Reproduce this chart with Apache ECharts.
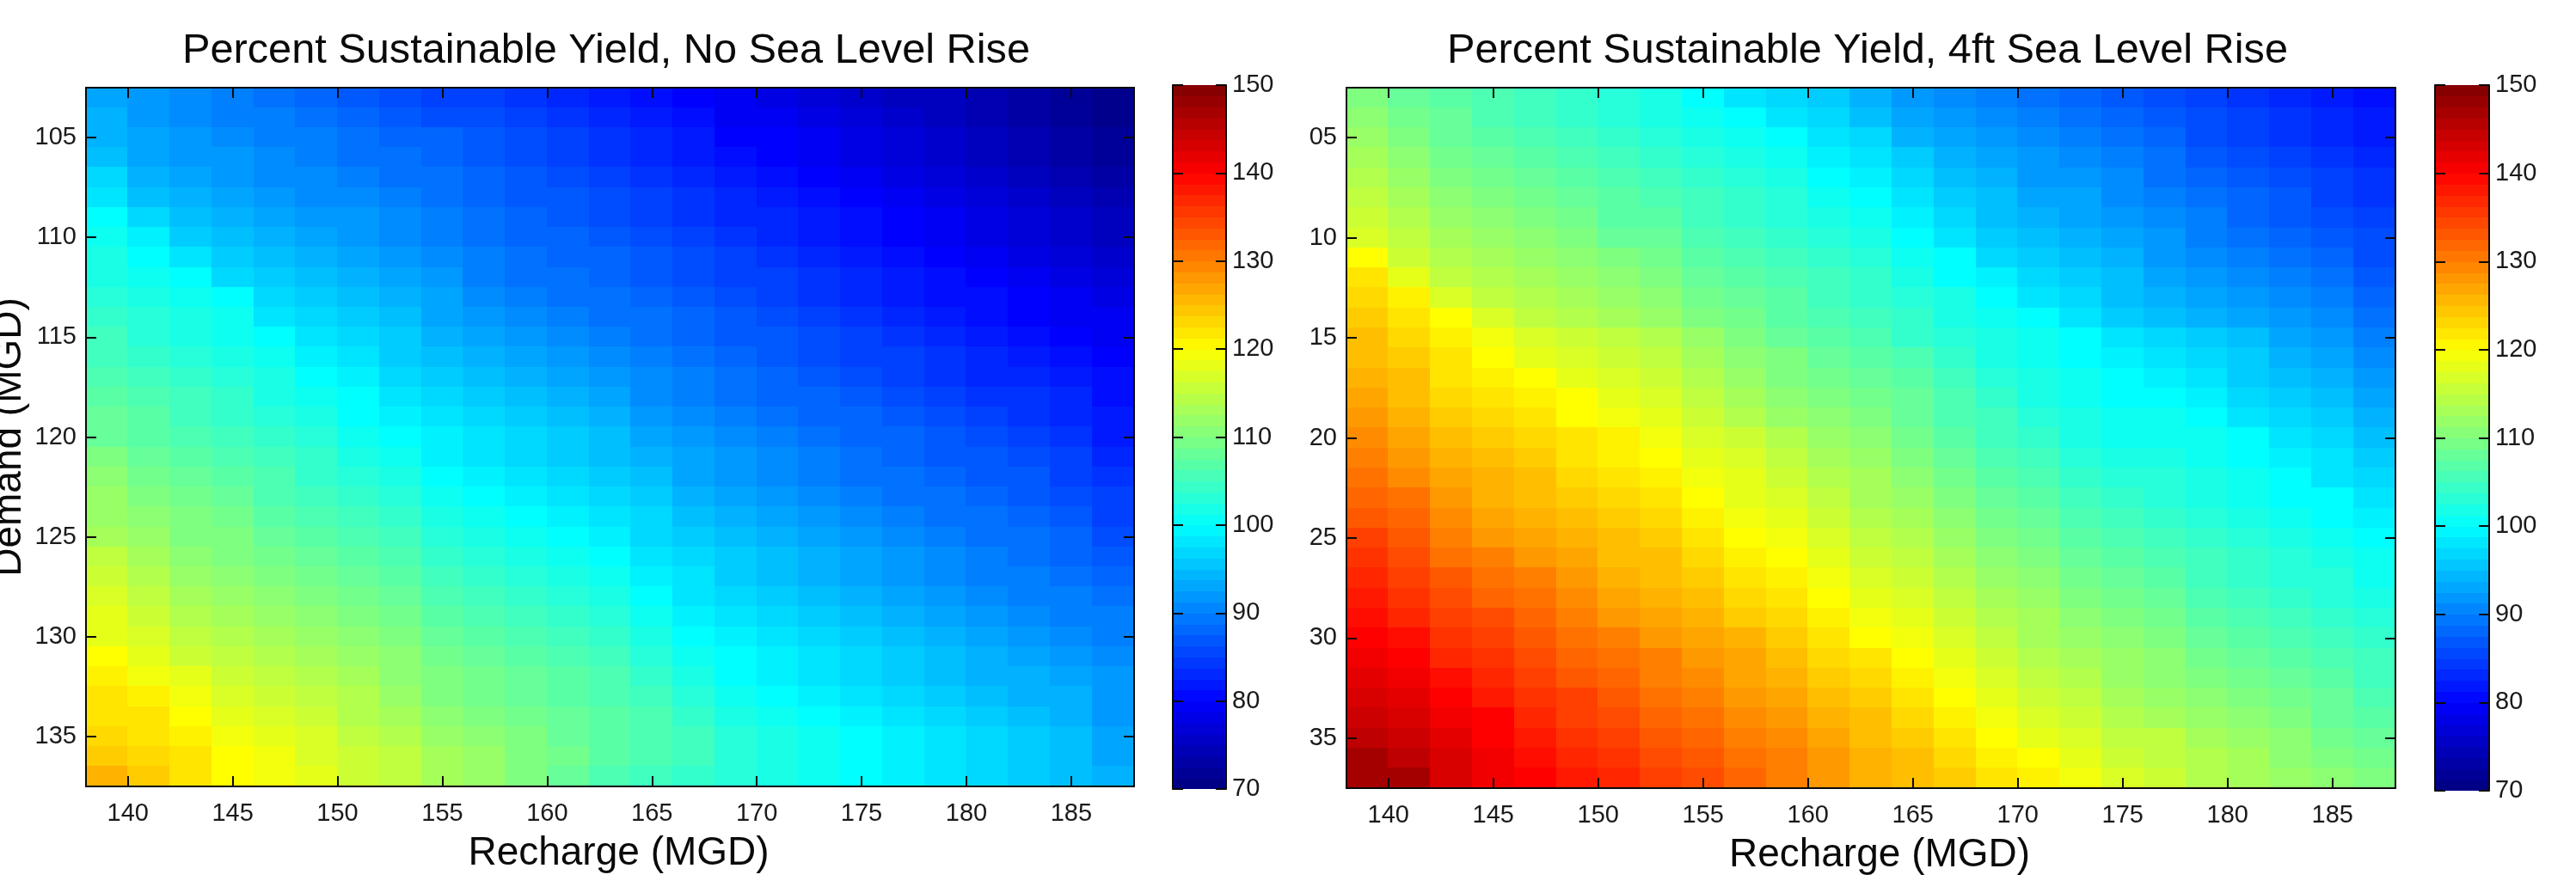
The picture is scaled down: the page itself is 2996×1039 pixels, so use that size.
<!DOCTYPE html>
<html>
<head>
<meta charset="utf-8">
<title>Percent Sustainable Yield</title>
<style>html,body{margin:0;padding:0;background:#fff}#chart{width:2996px;height:1039px}</style>
<script src="https://cdn.jsdelivr.net/npm/echarts@6/dist/echarts.min.js"></script>
</head>
<body>
<div id="chart"></div>
<script>
// Cell centres (MGD)
const rechargeCells = [139,141,143,145,147,149,151,153,155,157,159,161,163,165,167,169,171,173,175,177,179,181,183,185,187];
const demandCells = [103,104,105,106,107,108,109,110,111,112,113,114,115,116,117,118,119,120,121,122,123,124,125,126,127,128,129,130,131,132,133,134,135,136,137];

// Percent sustainable yield, one row per demand value
const yieldNoRise = [
[93,92,91,90,89,88,87,86,85,85,84,83,82,81,80,79,78,77,76,75,75,74,73,72,71],
[94,92,91,90,90,89,88,87,86,86,85,84,83,82,81,79,79,78,77,76,75,74,73,72,71],
[94,93,92,91,90,90,89,88,88,87,86,85,84,83,82,80,80,79,78,77,76,75,74,73,72],
[95,93,92,92,91,90,89,89,88,87,86,85,84,83,82,81,80,79,78,77,76,75,74,73,72],
[97,94,93,92,91,91,90,89,89,88,87,86,85,84,83,82,81,80,79,78,77,76,75,74,73],
[98,95,94,93,92,91,91,90,89,88,87,87,86,85,84,83,82,81,80,79,78,77,76,75,74],
[100,97,95,94,93,92,92,91,90,89,88,87,86,85,84,83,83,82,81,80,79,78,77,76,75],
[101,99,96,95,94,93,92,91,90,89,88,88,87,86,85,84,83,82,81,80,79,78,77,76,75],
[102,100,98,96,95,94,93,92,91,90,89,88,88,87,86,85,84,83,82,81,80,79,78,77,76],
[102,101,100,97,96,95,94,93,92,90,89,89,88,87,86,85,85,84,83,82,81,80,79,78,77],
[103,102,101,100,97,96,95,94,93,91,90,89,89,88,87,86,85,84,83,82,81,81,80,79,78],
[104,103,102,101,98,97,96,95,93,92,91,90,89,89,88,87,86,85,84,83,82,81,80,79,79],
[105,103,102,101,100,98,97,96,94,93,92,91,90,89,88,87,87,86,85,84,83,82,81,80,79],
[105,104,103,102,101,99,98,96,95,94,93,92,91,90,89,88,87,86,85,85,84,83,82,81,80],
[106,105,104,103,102,100,99,97,96,95,94,93,92,91,90,89,88,87,86,85,84,83,83,82,81],
[107,106,105,104,102,101,100,98,97,96,95,94,93,91,90,89,88,88,87,86,85,84,84,83,81],
[108,107,105,104,103,102,100,99,98,97,96,95,94,92,91,90,89,88,88,87,86,85,84,83,82],
[108,107,106,105,104,103,101,100,99,98,97,96,95,93,92,91,90,89,88,88,87,86,85,84,82],
[110,108,107,106,105,104,102,101,99,98,97,96,95,94,93,92,91,90,89,88,87,87,86,85,83],
[111,109,108,107,106,104,103,102,100,99,98,97,96,95,93,92,91,90,89,89,88,87,87,85,84],
[112,110,109,108,106,105,104,103,101,100,99,98,97,96,94,93,92,91,90,89,89,88,87,86,85],
[112,111,110,109,107,106,105,104,102,101,100,99,98,97,95,94,93,92,91,90,89,89,88,87,85],
[113,112,110,110,108,107,106,105,103,102,101,100,99,97,96,95,94,93,92,91,90,89,89,88,86],
[115,113,111,110,109,108,107,106,104,103,102,101,100,98,97,96,95,94,93,92,91,90,89,88,87],
[116,114,112,111,110,109,108,107,105,104,103,102,101,99,98,96,95,94,93,92,91,90,90,89,88],
[117,115,113,112,111,110,109,108,106,105,104,103,102,100,98,97,96,95,94,93,92,91,90,90,89],
[118,116,114,113,112,111,110,109,107,106,105,104,103,101,99,98,97,96,95,94,93,92,91,90,90],
[118,117,115,114,113,112,111,110,108,107,106,105,104,102,100,99,98,97,96,95,94,93,92,91,90],
[120,118,116,115,114,113,112,111,109,108,107,106,105,103,101,100,99,98,97,96,95,94,93,92,91],
[121,119,118,116,115,114,113,111,110,109,108,107,106,104,102,100,99,98,97,96,95,94,94,93,92],
[122,121,119,117,116,115,114,112,110,109,108,107,106,105,103,101,100,99,98,97,96,95,94,94,92],
[122,122,120,118,117,116,114,113,111,110,109,108,107,106,104,102,101,100,99,98,97,96,95,94,92],
[123,122,121,119,118,117,115,114,112,111,110,108,107,106,105,103,102,101,100,99,98,97,96,95,93],
[124,123,122,120,119,117,116,115,113,112,110,109,107,106,105,103,102,101,100,99,98,97,96,95,93],
[126,124,122,120,119,118,116,115,113,112,110,108,106,105,104,103,102,101,100,99,98,97,96,95,94]
];
const yield4ftRise = [
[110,108,107,106,105,104,103,102,100,98,97,96,94,92,91,90,89,88,87,86,85,84,83,82,81],
[111,109,108,106,105,104,103,102,101,100,98,97,95,93,92,91,90,89,88,87,86,85,84,83,82],
[112,110,108,107,106,105,104,103,102,101,100,98,97,94,93,92,91,90,89,88,86,85,84,83,82],
[113,111,109,108,107,106,105,104,103,102,101,99,98,96,94,93,92,91,90,89,87,86,85,84,83],
[114,112,110,109,108,107,106,105,104,103,102,100,99,97,95,94,92,92,91,89,88,87,86,85,84],
[115,113,111,110,109,108,107,106,105,104,103,101,100,98,96,95,93,93,91,90,89,88,87,85,84],
[116,114,112,111,110,109,107,107,105,104,103,102,101,99,97,95,94,93,92,91,90,88,87,86,85],
[117,115,113,112,111,110,108,108,106,105,104,103,102,100,98,96,95,94,93,92,90,89,88,87,86],
[120,116,114,113,112,111,110,109,107,106,105,104,103,101,100,97,96,95,94,92,91,90,89,88,86],
[122,118,115,114,113,112,111,110,108,107,106,105,104,102,100,99,97,96,95,93,92,91,90,89,87],
[123,121,117,115,114,113,112,111,109,108,107,105,104,103,102,100,98,97,95,94,93,92,91,90,88],
[124,122,120,117,115,114,113,112,110,109,107,106,105,104,102,101,100,98,96,95,94,93,92,91,89],
[125,123,121,119,117,116,115,114,112,110,108,107,106,104,103,102,101,100,98,97,96,95,93,92,90],
[125,124,122,120,118,117,116,115,113,111,110,108,107,106,104,102,101,100,99,98,97,96,94,93,91],
[126,125,122,121,120,118,117,116,114,112,110,109,108,107,105,103,102,101,100,99,98,96,95,94,92],
[127,125,123,122,121,120,118,117,115,113,111,110,109,108,106,104,102,101,100,100,99,97,96,95,93],
[128,126,124,123,122,120,119,118,116,114,112,111,110,108,106,105,103,102,101,101,100,98,97,96,94],
[129,127,125,124,123,122,121,119,117,116,114,112,111,109,107,105,104,102,101,101,101,100,98,97,95],
[130,128,126,125,124,122,121,120,118,117,115,113,112,110,108,106,105,103,102,102,101,100,99,98,96],
[131,129,127,126,125,123,122,121,119,118,116,114,113,111,109,107,106,104,103,103,102,101,100,98,97],
[132,131,128,126,125,124,123,122,120,118,117,115,113,112,110,108,107,105,104,103,102,101,100,100,98],
[133,132,129,127,126,125,124,123,121,119,118,116,114,113,111,109,108,106,105,104,103,102,101,100,99],
[135,133,130,128,127,126,125,124,122,120,119,117,115,114,112,110,109,107,106,105,104,103,102,101,100],
[136,134,131,130,128,127,125,125,123,121,120,118,116,115,113,111,110,108,107,106,105,104,103,102,101],
[137,135,133,131,130,128,126,125,124,122,121,119,117,116,114,112,111,109,108,107,105,104,103,103,101],
[138,136,134,132,131,129,127,126,125,123,122,120,118,117,115,113,112,110,109,108,106,105,104,103,102],
[139,137,135,134,132,130,128,127,126,124,123,121,119,118,116,114,113,111,110,109,107,106,105,104,103],
[140,139,136,135,133,131,130,128,127,126,124,122,120,119,117,115,113,112,111,110,108,107,106,105,104],
[141,140,137,136,134,132,131,130,128,127,125,123,122,120,118,116,114,113,112,111,109,108,107,106,105],
[142,141,139,137,135,133,132,130,129,127,126,124,123,121,119,117,115,114,112,111,110,109,108,107,105],
[143,142,140,138,136,135,133,131,130,128,127,125,124,122,120,118,116,115,113,112,111,110,109,108,106],
[144,143,141,140,137,135,134,132,131,129,128,126,125,123,121,119,117,116,114,113,112,111,110,108,107],
[145,144,142,140,138,136,135,133,132,130,129,127,125,124,122,120,118,117,115,115,113,112,111,109,108],
[147,145,143,141,139,137,136,134,133,131,130,128,126,125,123,121,120,118,116,115,114,113,111,110,109],
[147,147,143,141,140,138,137,135,134,132,130,128,126,125,124,122,121,119,117,116,114,113,112,111,110]
];

// Tick labels
const rechargeTicks = [140,145,150,155,160,165,170,175,180,185];
const demandTicks = [105,110,115,120,125,130,135];
const leftDemandLabels = ['105','110','115','120','125','130','135'];
const rightDemandLabels = ['05','10','15','20','25','30','35'];
const colorbarTicks = [70,80,90,100,110,120,130,140,150];

// Colour scale: MATLAB jet between 70 and 150, and the 64 steps of its colour bar
const jetStops = ['#00007f','#0000ff','#007fff','#00ffff','#7fff7f','#ffff00','#ff7f00','#ff0000','#7f0000'];
const colorbarLevels = [70.625,71.875,73.125,74.375,75.625,76.875,78.125,79.375,80.625,81.875,83.125,84.375,85.625,86.875,88.125,89.375,90.625,91.875,93.125,94.375,95.625,96.875,98.125,99.375,100.625,101.875,103.125,104.375,105.625,106.875,108.125,109.375,110.625,111.875,113.125,114.375,115.625,116.875,118.125,119.375,120.625,121.875,123.125,124.375,125.625,126.875,128.125,129.375,130.625,131.875,133.125,134.375,135.625,136.875,138.125,139.375,140.625,141.875,143.125,144.375,145.625,146.875,148.125,149.375];

const titles = ['Percent Sustainable Yield, No Sea Level Rise','Percent Sustainable Yield, 4ft Sea Level Rise'];
const xName = 'Recharge (MGD)';
const yName = 'Demand (MGD)';

const FONT = '"Liberation Sans", Arial, sans-serif';
const INK = '#0a0a0a';

function cellRenderer(w, h) {
  return function (params, api) {
    const x = api.value(0), y = api.value(1);
    const a = api.coord([x - w / 2, y - h / 2]);
    const b = api.coord([x + w / 2, y + h / 2]);
    const x0 = Math.floor(Math.min(a[0], b[0])), x1 = Math.ceil(Math.max(a[0], b[0]));
    const y0 = Math.floor(Math.min(a[1], b[1])), y1 = Math.ceil(Math.max(a[1], b[1]));
    return { type: 'rect', shape: { x: x0, y: y0, width: x1 - x0, height: y1 - y0 }, style: { fill: api.visual('color') } };
  };
}
function gridData(rows) {
  const out = [];
  rows.forEach((row, j) => row.forEach((v, i) => out.push([rechargeCells[i], demandCells[j], v])));
  return out;
}
const line = { show: true, onZero: false, lineStyle: { color: INK, width: 2 } };
function ticks(values) {
  return { show: true, inside: true, length: 12, customValues: values, lineStyle: { color: INK, width: 2 } };
}
function xAxes(grid) {
  return [
    { type: 'value', gridIndex: grid, min: 138, max: 188, position: 'bottom', z: 6, axisLine: line, splitLine: { show: false },
      axisTick: ticks(rechargeTicks),
      axisLabel: { customValues: rechargeTicks, margin: 17, fontFamily: FONT, fontSize: 29, color: '#1a1a1a' },
      name: xName, nameLocation: 'middle', nameGap: 55,
      nameTextStyle: { fontFamily: FONT, fontSize: 46, color: INK, padding: [0, 0, 0, 20] } },
    { type: 'value', gridIndex: grid, min: 138, max: 188, position: 'top', z: 6, axisLine: line, splitLine: { show: false },
      axisTick: ticks(rechargeTicks), axisLabel: { show: false } }
  ];
}
function yAxes(grid, labels, withName) {
  const left = { type: 'value', gridIndex: grid, min: 102.5, max: 137.5, inverse: true, position: 'left', z: 6, axisLine: line, splitLine: { show: false },
      axisTick: ticks(demandTicks),
      axisLabel: { customValues: demandTicks, margin: 11, fontFamily: FONT, fontSize: 29, color: '#1a1a1a',
        formatter: v => labels[demandTicks.indexOf(v)] } };
  if (withName) {
    left.name = yName; left.nameLocation = 'middle'; left.nameGap = 66;
    left.nameTextStyle = { fontFamily: FONT, fontSize: 46, color: INK };
  }
  return [left,
    { type: 'value', gridIndex: grid, min: 102.5, max: 137.5, inverse: true, position: 'right', z: 6, axisLine: line, splitLine: { show: false },
      axisTick: ticks(demandTicks), axisLabel: { show: false } }];
}
function barAxes(grid) {
  return {
    x: { type: 'value', gridIndex: grid, min: 0, max: 1, show: false },
    y: [
      { type: 'value', gridIndex: grid, min: 70, max: 150, position: 'right', z: 6, axisLine: line, splitLine: { show: false },
        axisTick: ticks(colorbarTicks),
        axisLabel: { customValues: colorbarTicks, margin: 7, fontFamily: FONT, fontSize: 29, color: '#1a1a1a' } },
      { type: 'value', gridIndex: grid, min: 70, max: 150, position: 'left', z: 6, axisLine: line, splitLine: { show: false },
        axisTick: ticks(colorbarTicks), axisLabel: { show: false } }
    ]
  };
}
const bar0 = barAxes(2), bar1 = barAxes(3);
const barData = colorbarLevels.map(v => [0.5, v, v]);

const option = {
  animation: false,
  backgroundColor: '#ffffff',
  title: [
    { text: titles[0], left: 700, top: 30, textAlign: 'center', textStyle: { fontFamily: FONT, fontSize: 48.7, fontWeight: 'normal', color: INK } },
    { text: titles[1], left: 2167, top: 30, textAlign: 'center', textStyle: { fontFamily: FONT, fontSize: 48.7, fontWeight: 'normal', color: INK } }
  ],
  grid: [
    { left: 100, top: 102, width: 1219, height: 813, outerBoundsMode: 'none' },
    { left: 1566, top: 102, width: 1220, height: 815, outerBoundsMode: 'none' },
    { left: 1364, top: 99, width: 62, height: 819, outerBoundsMode: 'none' },
    { left: 2832, top: 99, width: 63, height: 821, outerBoundsMode: 'none' }
  ],
  xAxis: [...xAxes(0), ...xAxes(1), bar0.x, bar1.x],
  yAxis: [...yAxes(0, leftDemandLabels, true), ...yAxes(1, rightDemandLabels, false), ...bar0.y, ...bar1.y],
  visualMap: { show: false, type: 'continuous', min: 70, max: 150, dimension: 2, seriesIndex: [0, 1, 2, 3], inRange: { color: jetStops } },
  series: [
    { type: 'custom', xAxisIndex: 0, yAxisIndex: 0, renderItem: cellRenderer(2, 1), data: gridData(yieldNoRise), encode: { x: 0, y: 1 }, silent: true, progressive: 0 },
    { type: 'custom', xAxisIndex: 2, yAxisIndex: 2, renderItem: cellRenderer(2, 1), data: gridData(yield4ftRise), encode: { x: 0, y: 1 }, silent: true, progressive: 0 },
    { type: 'custom', xAxisIndex: 4, yAxisIndex: 4, renderItem: cellRenderer(1, 1.25), data: barData, encode: { x: 0, y: 1 }, silent: true, progressive: 0 },
    { type: 'custom', xAxisIndex: 5, yAxisIndex: 6, renderItem: cellRenderer(1, 1.25), data: barData, encode: { x: 0, y: 1 }, silent: true, progressive: 0 }
  ]
};
const chart = echarts.init(document.getElementById('chart'), null, { renderer: 'canvas' });
chart.setOption(option);
</script>
</body>
</html>
